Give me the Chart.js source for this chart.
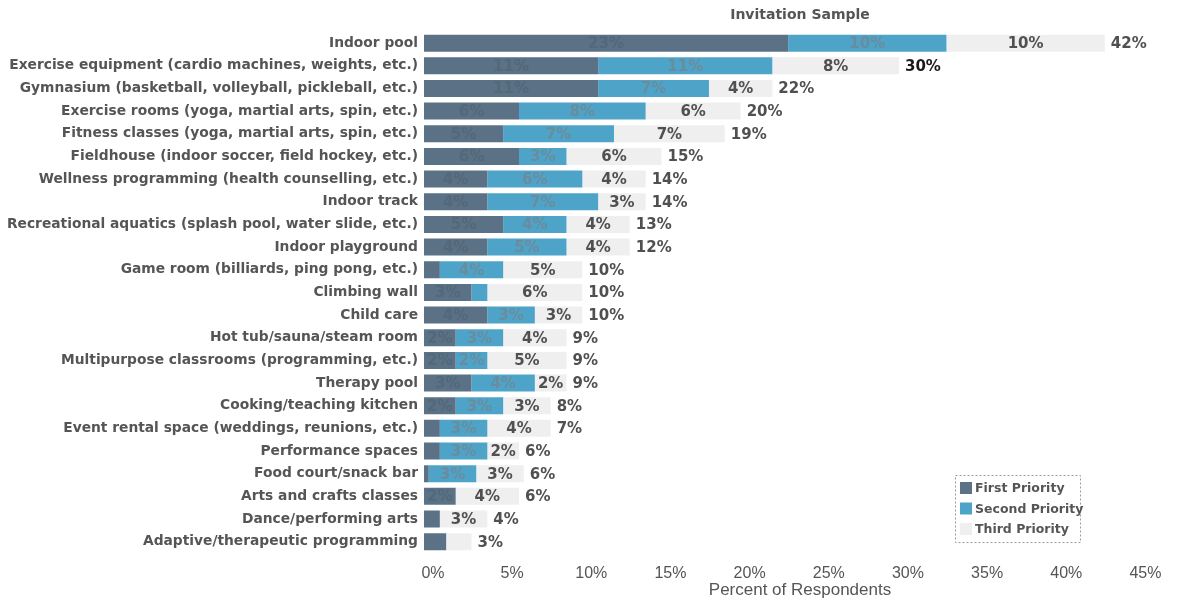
<!DOCTYPE html>
<html>
<head>
<meta charset="utf-8">
<script src="https://cdn.jsdelivr.net/npm/chart.js@4.4.1/dist/chart.umd.min.js"></script>
<style>
  html, body { margin: 0; padding: 0; background: #fff; }
</style>
</head>
<body>
<canvas id="amenityChart" width="1195" height="599"></canvas>
<script>
// amenities, top to bottom
var amenities = [
  'Indoor pool',
  'Exercise equipment (cardio machines, weights, etc.)',
  'Gymnasium (basketball, volleyball, pickleball, etc.)',
  'Exercise rooms (yoga, martial arts, spin, etc.)',
  'Fitness classes (yoga, martial arts, spin, etc.)',
  'Fieldhouse (indoor soccer, field hockey, etc.)',
  'Wellness programming (health counselling, etc.)',
  'Indoor track',
  'Recreational aquatics (splash pool, water slide, etc.)',
  'Indoor playground',
  'Game room (billiards, ping pong, etc.)',
  'Climbing wall',
  'Child care',
  'Hot tub/sauna/steam room',
  'Multipurpose classrooms (programming, etc.)',
  'Therapy pool',
  'Cooking/teaching kitchen',
  'Event rental space (weddings, reunions, etc.)',
  'Performance spaces',
  'Food court/snack bar',
  'Arts and crafts classes',
  'Dance/performing arts',
  'Adaptive/therapeutic programming'
];

// percent of respondents per priority
var firstPriority  = [23, 11, 11, 6, 5, 6, 4, 4, 5, 4, 1, 3, 4, 2, 2, 3, 2, 1, 1, 0.3, 2, 1, 1.4];
var secondPriority = [10, 11, 7, 8, 7, 3, 6, 7, 4, 5, 4, 1, 3, 3, 2, 4, 3, 3, 3, 3, 0, 0, 0];
var thirdPriority  = [10, 8, 4, 6, 7, 6, 4, 3, 4, 4, 5, 6, 3, 4, 5, 2, 3, 4, 2, 3, 4, 3, 1.6];
var totalPercent   = [42, 30, 22, 20, 19, 15, 14, 14, 13, 12, 10, 10, 10, 9, 9, 9, 8, 7, 6, 6, 6, 4, 3];

var seriesNames = ['First Priority', 'Second Priority', 'Third Priority'];
var seriesColors = ['#5a7186', '#4ea4c8', '#efefef'];
var insideLabelColors = ['#536879', '#6a8c9d', '#505050'];

// draws the value in each segment and the total after each bar
var barLabels = {
  id: 'barLabels',
  afterDatasetsDraw: function(chart) {
    var ctx = chart.ctx;
    ctx.save();
    ctx.textBaseline = 'middle';
    ctx.font = 'bold 15px "DejaVu Sans"';
    chart.data.datasets.forEach(function(ds, i) {
      var meta = chart.getDatasetMeta(i);
      meta.data.forEach(function(bar, j) {
        var v = ds.data[j];
        if (v < 2) return;
        ctx.textAlign = 'center';
        ctx.fillStyle = insideLabelColors[i];
        ctx.fillText(v + '%', (bar.x + bar.base) / 2, bar.y + 1);
      });
    });
    var last = chart.getDatasetMeta(chart.data.datasets.length - 1);
    last.data.forEach(function(bar, j) {
      ctx.textAlign = 'left';
      ctx.fillStyle = j === 1 ? '#1a1a1a' : '#505050';
      ctx.fillText(totalPercent[j] + '%', bar.x + 6, bar.y + 1);
    });
    ctx.restore();
  }
};

// boxed legend in the lower right of the plot
var boxLegend = {
  id: 'boxLegend',
  afterDraw: function(chart) {
    var a = chart.chartArea;
    var ctx = chart.ctx;
    var x0 = a.right - 221, y0 = a.bottom - 78, w = 125, h = 67;
    ctx.save();
    ctx.fillStyle = '#fff';
    ctx.fillRect(x0, y0, w, h);
    ctx.setLineDash([2, 2]);
    ctx.strokeStyle = '#9a9a9a';
    ctx.lineWidth = 1;
    ctx.strokeRect(x0 + 0.5, y0 + 0.5, w, h);
    ctx.setLineDash([]);
    ctx.font = 'bold 12.5px "DejaVu Sans"';
    ctx.textBaseline = 'middle';
    ctx.textAlign = 'left';
    seriesNames.forEach(function(name, i) {
      var cy = y0 + 13 + i * 20.5;
      ctx.fillStyle = seriesColors[i];
      ctx.fillRect(x0 + 5, cy - 6, 12, 12);
      ctx.fillStyle = '#555';
      ctx.fillText(name, x0 + 20, cy + 1);
    });
    ctx.restore();
  }
};

var ctx = document.getElementById('amenityChart');
var myChart = new Chart(ctx, {
  type: 'bar',
  data: {
    labels: amenities,
    datasets: [
      { label: seriesNames[0], data: firstPriority, backgroundColor: seriesColors[0] },
      { label: seriesNames[1], data: secondPriority, backgroundColor: seriesColors[1] },
      { label: seriesNames[2], data: thirdPriority, backgroundColor: seriesColors[2] }
    ]
  },
  options: {
    indexAxis: 'y',
    responsive: false,
    animation: false,
    barPercentage: 0.75,
    categoryPercentage: 1.0,
    layout: { padding: { left: 0, right: 19, top: 0, bottom: 0 } },
    plugins: {
      legend: { display: false },
      tooltip: { enabled: false },
      title: {
        display: true,
        fullSize: false,
        text: 'Invitation Sample',
        color: '#555',
        font: { family: 'DejaVu Sans', size: 14, weight: 'bold' },
        padding: { top: 7, bottom: 8 }
      }
    },
    scales: {
      x: {
        stacked: true,
        min: 0,
        max: 47.5,
        grid: { display: false, drawTicks: false },
        border: { display: false },
        ticks: {
          stepSize: 5,
          includeBounds: false,
          padding: 11,
          labelOffset: 9,
          color: '#555',
          font: { family: 'Liberation Sans', size: 16 },
          callback: function(v) { return v + '%'; }
        },
        title: {
          display: true,
          text: 'Percent of Respondents',
          color: '#555',
          font: { family: 'Liberation Sans', size: 17 },
          padding: { top: 0, bottom: -2 }
        },
        afterFit: function(scale) { scale.height = 46; }
      },
      y: {
        stacked: true,
        grid: { display: false, drawTicks: false },
        border: { display: false },
        ticks: {
          padding: 6,
          autoSkip: false,
          color: '#555',
          font: { family: 'DejaVu Sans', size: 13.8, weight: 'bold' }
        },
        afterFit: function(scale) { scale.width = 424; }
      }
    }
  },
  plugins: [barLabels, boxLegend]
});
</script>
</body>
</html>
